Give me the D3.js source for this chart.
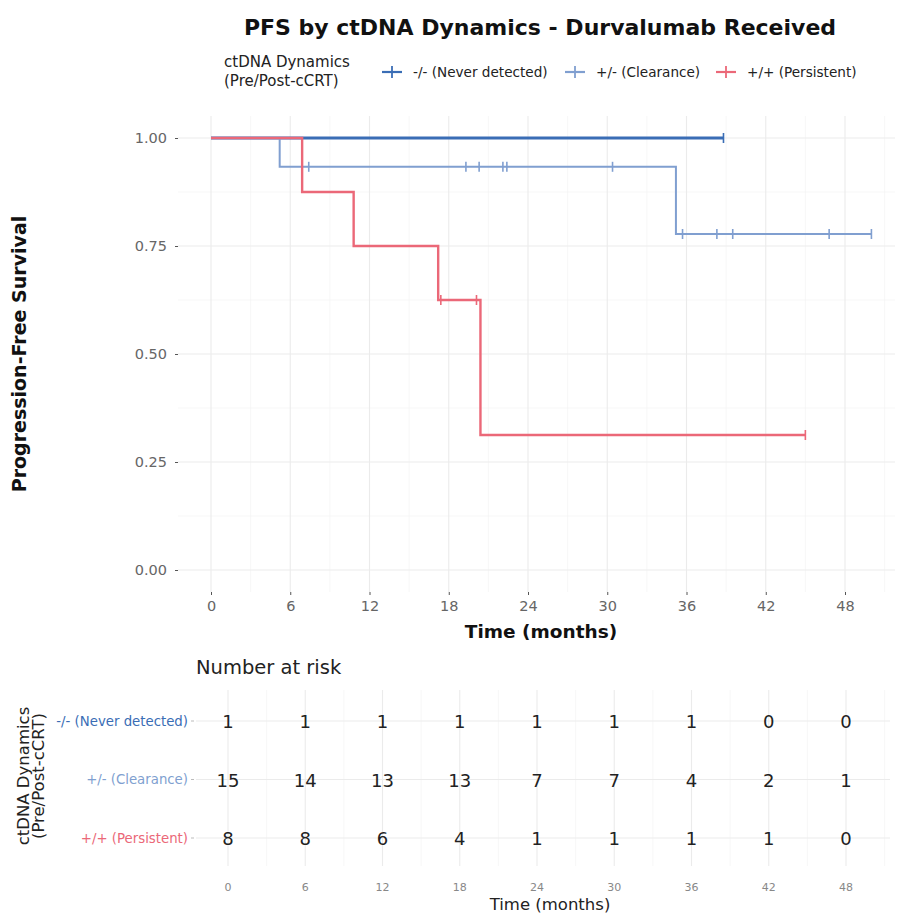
<!DOCTYPE html>
<html>
<head>
<meta charset="utf-8">
<script src="https://cdn.jsdelivr.net/npm/d3@7/dist/d3.min.js"></script>
<style>
  html, body { margin: 0; padding: 0; background: #fff; }
  svg { display: block; font-family: "DejaVu Sans", sans-serif; }
</style>
</head>
<body>
<svg id="chart" width="897" height="913"></svg>
<script>
// Groups (ctDNA dynamics pre/post cCRT)
const groups = ["-/- (Never detected)", "+/- (Clearance)", "+/+ (Persistent)"];
const groupColors = ["#3A6DB5", "#809FD0", "#EB6878"];
const lineWidths = [2.8, 2.0, 2.4];

// Progression events and censoring times (months) per group
const eventsNever = [];
const censorNever = [38.8];
const eventsClearance = [5.2, 35.2];
const censorClearance = [7.4, 19.3, 20.3, 20.3, 22.1, 22.4, 22.4, 30.4, 35.7, 38.3, 39.5, 46.8, 50.0];
const eventsPersistent = [6.9, 10.8, 17.2, 20.4];
const censorPersistent = [17.4, 20.1, 20.1, 45.0];

// Number at risk table
const riskTimes = [0, 6, 12, 18, 24, 30, 36, 42, 48];
const riskNever = [1, 1, 1, 1, 1, 1, 1, 0, 0];
const riskClearance = [15, 14, 13, 13, 7, 7, 4, 2, 1];
const riskPersistent = [8, 8, 6, 4, 1, 1, 1, 1, 0];

const xTicks = [0, 6, 12, 18, 24, 30, 36, 42, 48];
const yTicks = [0, 0.25, 0.5, 0.75, 1];

const eventSets = [eventsNever, eventsClearance, eventsPersistent];
const censorSets = [censorNever, censorClearance, censorPersistent];
const riskSets = [riskNever, riskClearance, riskPersistent];

// Kaplan-Meier estimate: returns step points and censor marks
function kaplanMeier(events, censors) {
  const obs = events.map(t => ({t, e: 1})).concat(censors.map(t => ({t, e: 0})))
    .sort((a, b) => a.t - b.t || b.e - a.e);
  let atRisk = obs.length, s = 1;
  const steps = [{t: 0, s: 1}];
  const marks = [];
  let i = 0;
  while (i < obs.length) {
    const t = obs[i].t;
    let d = 0, c = 0;
    while (i < obs.length && obs[i].t === t) { if (obs[i].e) d++; else c++; i++; }
    if (d > 0) { s = s * (atRisk - d) / atRisk; steps.push({t, s}); }
    if (c > 0) marks.push({t, s});
    atRisk -= d + c;
  }
  const last = obs.length ? obs[obs.length - 1].t : 0;
  steps.push({t: last, s});
  return {steps, marks};
}

const svg = d3.select("#chart");
const gridMajor = "#EBEBEB", gridMinor = "#F4F4F4";

// ---------- Title ----------
svg.append("text").attr("x", 540).attr("y", 35).attr("text-anchor", "middle")
  .attr("font-size", 22).attr("font-weight", "bold").attr("fill", "#111")
  .text("PFS by ctDNA Dynamics - Durvalumab Received");

// ---------- Legend ----------
const legend = svg.append("g");
legend.append("text").attr("x", 224).attr("y", 67).attr("font-size", 15).attr("fill", "#222").text("ctDNA Dynamics");
legend.append("text").attr("x", 224).attr("y", 86).attr("font-size", 15).attr("fill", "#222").text("(Pre/Post-cCRT)");
const legendKeyX = [392, 575, 726];
groups.forEach((g, i) => {
  const kx = legendKeyX[i], ky = 72;
  legend.append("line").attr("x1", kx - 10).attr("x2", kx + 10).attr("y1", ky).attr("y2", ky)
    .attr("stroke", groupColors[i]).attr("stroke-width", 2.2);
  legend.append("line").attr("x1", kx).attr("x2", kx).attr("y1", ky - 6).attr("y2", ky + 6)
    .attr("stroke", groupColors[i]).attr("stroke-width", 1.8);
  legend.append("text").attr("x", kx + 21).attr("y", ky + 5).attr("font-size", 13.6).attr("fill", "#222").text(g);
});

// ---------- Survival panel ----------
const x = d3.scaleLinear().domain([0, 48]).range([211, 845]);
const y = d3.scaleLinear().domain([0, 1]).range([570, 138]);
const panel = {left: 178, right: 895, top: 116, bottom: 592};

const grid = svg.append("g");
d3.range(3, 52, 6).forEach(t => {
  if (x(t) < panel.right) grid.append("line").attr("x1", x(t)).attr("x2", x(t))
    .attr("y1", panel.top).attr("y2", panel.bottom).attr("stroke", gridMinor).attr("stroke-width", 0.7);
});
d3.range(0.125, 1, 0.25).forEach(v => {
  grid.append("line").attr("x1", panel.left).attr("x2", panel.right).attr("y1", y(v)).attr("y2", y(v))
    .attr("stroke", gridMinor).attr("stroke-width", 0.7);
});
xTicks.forEach(t => grid.append("line").attr("x1", x(t)).attr("x2", x(t))
  .attr("y1", panel.top).attr("y2", panel.bottom).attr("stroke", gridMajor).attr("stroke-width", 1.1));
yTicks.forEach(v => grid.append("line").attr("x1", panel.left).attr("x2", panel.right)
  .attr("y1", y(v)).attr("y2", y(v)).attr("stroke", gridMajor).attr("stroke-width", 1.1));

// Axes
const yAxis = svg.append("g").attr("transform", `translate(${panel.left},0)`)
  .call(d3.axisLeft(y).tickValues(yTicks).tickFormat(d3.format(".2f")).tickSize(3).tickPadding(8));
const xAxis = svg.append("g").attr("transform", `translate(0,${panel.bottom})`)
  .call(d3.axisBottom(x).tickValues(xTicks).tickSize(3).tickPadding(6));
[yAxis, xAxis].forEach(a => {
  a.select(".domain").remove();
  a.selectAll(".tick line").attr("stroke", "#555");
  a.selectAll(".tick text").attr("fill", "#666").attr("font-size", 14.5).attr("font-family", "DejaVu Sans, sans-serif");
});

svg.append("text").attr("transform", "translate(26,354) rotate(-90)").attr("text-anchor", "middle")
  .attr("font-size", 19).attr("font-weight", "bold").attr("fill", "#111").text("Progression-Free Survival");
svg.append("text").attr("x", 541).attr("y", 638).attr("text-anchor", "middle")
  .attr("font-size", 18.5).attr("font-weight", "bold").attr("fill", "#111").text("Time (months)");

// Curves
const stepLine = d3.line().x(d => x(d.t)).y(d => y(d.s)).curve(d3.curveStepAfter);
groups.forEach((g, i) => {
  const km = kaplanMeier(eventSets[i], censorSets[i]);
  const cg = svg.append("g");
  cg.append("path").datum(km.steps).attr("d", stepLine).attr("fill", "none")
    .attr("stroke", groupColors[i]).attr("stroke-width", lineWidths[i]);
  cg.selectAll("line.cens").data(km.marks).join("line").attr("class", "cens")
    .attr("x1", d => x(d.t)).attr("x2", d => x(d.t))
    .attr("y1", d => y(d.s) - 5).attr("y2", d => y(d.s) + 5)
    .attr("stroke", groupColors[i]).attr("stroke-width", 1.6);
});

// ---------- Number at risk table ----------
svg.append("text").attr("x", 196).attr("y", 674).attr("font-size", 19.5).attr("fill", "#222").text("Number at risk");

const xr = d3.scaleLinear().domain([0, 48]).range([228, 846]);
const yr = d3.scalePoint().domain(groups).range([721, 838]);
const tpanel = {left: 196, right: 890, top: 690, bottom: 866};

const tgrid = svg.append("g");
d3.range(3, 52, 6).forEach(t => {
  if (xr(t) < tpanel.right) tgrid.append("line").attr("x1", xr(t)).attr("x2", xr(t))
    .attr("y1", tpanel.top).attr("y2", tpanel.bottom).attr("stroke", gridMinor).attr("stroke-width", 0.7);
});
xTicks.forEach(t => tgrid.append("line").attr("x1", xr(t)).attr("x2", xr(t))
  .attr("y1", tpanel.top).attr("y2", tpanel.bottom).attr("stroke", gridMajor).attr("stroke-width", 1.1));
groups.forEach(g => tgrid.append("line").attr("x1", tpanel.left).attr("x2", tpanel.right)
  .attr("y1", yr(g)).attr("y2", yr(g)).attr("stroke", gridMajor).attr("stroke-width", 1.1));

groups.forEach((g, i) => {
  svg.append("g").selectAll("text").data(riskTimes.map((t, j) => ({t, n: riskSets[i][j]}))).join("text")
    .attr("x", d => xr(d.t)).attr("y", yr(g) + 7).attr("text-anchor", "middle")
    .attr("font-size", 18).attr("fill", "#222").text(d => d.n);
  svg.append("line").attr("x1", tpanel.left - 5).attr("x2", tpanel.left - 2)
    .attr("y1", yr(g)).attr("y2", yr(g)).attr("stroke", "#bbb");
  svg.append("text").attr("x", tpanel.left - 8).attr("y", yr(g) + 4.5).attr("text-anchor", "end")
    .attr("font-size", 13.3).attr("fill", groupColors[i]).text(g);
});

svg.append("g").selectAll("text").data(xTicks).join("text")
  .attr("x", d => xr(d)).attr("y", 891).attr("text-anchor", "middle")
  .attr("font-size", 11).attr("fill", "#888").text(d => d);
svg.append("text").attr("x", 550).attr("y", 910).attr("text-anchor", "middle")
  .attr("font-size", 16.5).attr("fill", "#222").text("Time (months)");

svg.append("text").attr("transform", "translate(29,776) rotate(-90)").attr("text-anchor", "middle")
  .attr("font-size", 16.5).attr("fill", "#222").text("ctDNA Dynamics");
svg.append("text").attr("transform", "translate(44,776) rotate(-90)").attr("text-anchor", "middle")
  .attr("font-size", 16.5).attr("fill", "#222").text("(Pre/Post-cCRT)");
</script>
</body>
</html>
